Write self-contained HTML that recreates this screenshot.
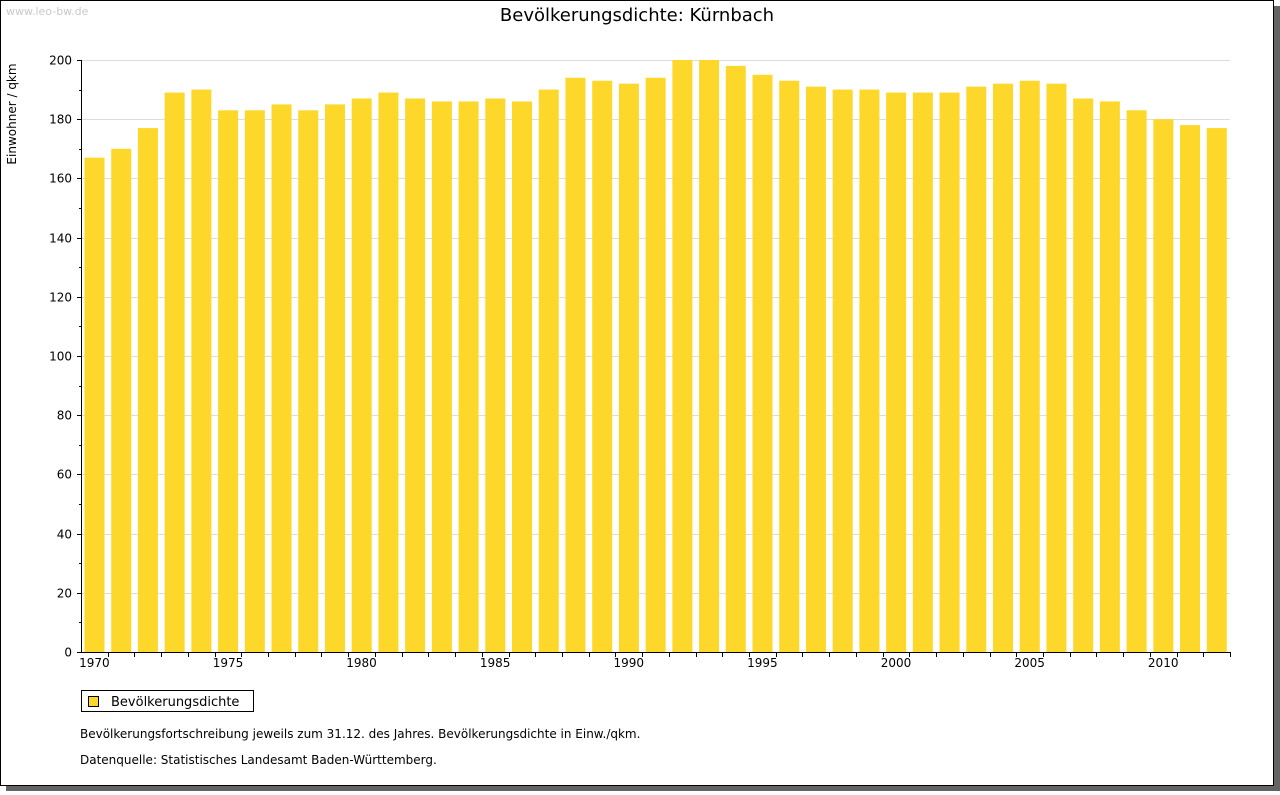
<!DOCTYPE html>
<html><head><meta charset="utf-8"><style>
body{margin:0;background:#fff;width:1280px;height:791px;overflow:hidden;font-family:"DejaVu Sans","Liberation Sans",sans-serif}
</style></head><body>
<svg width="1280" height="791" xmlns="http://www.w3.org/2000/svg" style="font-family:'DejaVu Sans','Liberation Sans',sans-serif">
<rect x="6" y="6" width="1274" height="785" fill="#646464"/>
<rect x="0.5" y="0.5" width="1273" height="785" fill="#fff" stroke="#000"/>
<text x="6" y="15" font-size="11" fill="#c8c8c8">www.leo-bw.de</text>
<text x="637" y="21" font-size="18" text-anchor="middle">Bevölkerungsdichte: Kürnbach</text>
<text transform="translate(16,114) rotate(-90)" font-size="12" text-anchor="middle">Einwohner / qkm</text>
<g id="grid"></g><g id="bars"></g><g id="axes"></g>
<rect x="81.5" y="690.5" width="172" height="21" fill="#fff" stroke="#000"/>
<rect x="88.5" y="696.5" width="10" height="10" fill="#fdd82b" stroke="#000"/>
<text x="111" y="706" font-size="13">Bevölkerungsdichte</text>
<text x="80" y="738" font-size="12">Bevölkerungsfortschreibung jeweils zum 31.12. des Jahres. Bevölkerungsdichte in Einw./qkm.</text>
<text x="80" y="764" font-size="12">Datenquelle: Statistisches Landesamt Baden-Württemberg.</text>
</svg>
<script>
const years=[1970,1971,1972,1973,1974,1975,1976,1977,1978,1979,1980,1981,1982,1983,1984,1985,1986,1987,1988,1989,1990,1991,1992,1993,1994,1995,1996,1997,1998,1999,2000,2001,2002,2003,2004,2005,2006,2007,2008,2009,2010,2011,2012];
const values=[167,170,177,189,190,183,183,185,183,185,187,189,187,186,186,187,186,190,194,193,192,194,200,200,198,195,193,191,190,190,189,189,189,191,192,193,192,187,186,183,180,178,177];
const yTicks=[0,20,40,60,80,100,120,140,160,180,200];
const xLabels=[1970,1975,1980,1985,1990,1995,2000,2005,2010];
const NS="http://www.w3.org/2000/svg";
const x0=81,x1=1230,y0=652,y1=60,yMax=200;
const step=(x1-x0)/years.length;
const ys=v=>y0-(v/yMax)*(y0-y1);
const xs=i=>x0+i*step;
function mk(t,a,p){const e=document.createElementNS(NS,t);for(const k in a)e.setAttribute(k,a[k]);p.appendChild(e);return e;}
const grid=document.getElementById('grid'),bars=document.getElementById('bars'),axes=document.getElementById('axes');
yTicks.forEach(v=>{
 const y=Math.round(ys(v))+0.5;
 if(v>0){const g=mk('line',{x1:x0,x2:x1,y1:y,y2:y,stroke:'#dcdcdc'},grid);
 
 }
 const t=mk('line',{x1:x0-4,x2:x0,y1:y,y2:y,stroke:'#000'},axes);
 
 
 const l=mk('text',{x:72,y:y+4,'font-size':12,'text-anchor':'end'},axes);l.textContent=v;
 
 
});
for(let i=0;i<yTicks.length-1;i++){const y=Math.round(ys((yTicks[i]+yTicks[i+1])/2))+0.5;
 const t=mk('line',{x1:x0-2,x2:x0,y1:y,y2:y,stroke:'#000'},axes);
 
 }
values.forEach((v,i)=>{
 const b=mk('rect',{x:xs(i)+3.5,y:ys(v),width:20,height:y0-ys(v),fill:'#fdd82b'},bars);
 
 
});
for(let i=1;i<=years.length;i++){const x=Math.round(xs(i))+0.5;
 const t=mk('line',{x1:x,x2:x,y1:y0,y2:y0+5,stroke:'#000'},axes);
 
 }
xLabels.forEach(yr=>{const i=years.indexOf(yr);
 const l=mk('text',{x:xs(i)+step/2,y:667,'font-size':12,'text-anchor':'middle'},axes);l.textContent=yr;
 
 });
const ax=mk('path',{d:`M${x0+0.5},${y1} V${y0+0.5} H${x1}`,stroke:'#000',fill:'none'},axes);


</script>
</body></html>
